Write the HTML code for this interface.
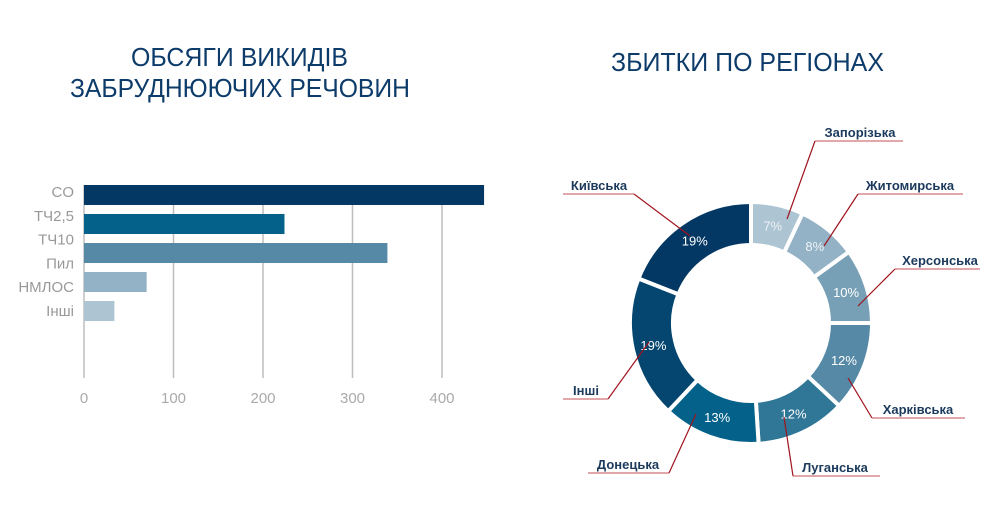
<!DOCTYPE html>
<html><head><meta charset="utf-8"><style>
html,body{margin:0;padding:0;background:#fff;}
svg{display:block;font-family:"Liberation Sans",sans-serif;}
</style></head><body>
<svg id="c" width="1007" height="506" viewBox="0 0 1007 506">
<g fill="#0d3b6a" font-size="26">
<text x="131" y="66" textLength="217" lengthAdjust="spacingAndGlyphs">ОБСЯГИ ВИКИДІВ</text>
<text x="70" y="97" textLength="340" lengthAdjust="spacingAndGlyphs">ЗАБРУДНЮЮЧИХ РЕЧОВИН</text>
</g>
<text x="611" y="71" textLength="273" lengthAdjust="spacingAndGlyphs" fill="#0d3b6a" font-size="26">ЗБИТКИ ПО РЕГІОНАХ</text>
<g id="bars"></g>
<g id="donut"></g>
</svg>
<script>
const barCats=["CO","ТЧ2,5","ТЧ10","Пил","НМЛОС","Інші"];
const barVals=[447,224,339,70,34];
const barColors=["#033764","#04628a","#5589a6","#94b2c6","#adc4d2"];
const xTicks=[0,100,200,300,400];
const sliceNames=["Запорізька","Житомирська","Херсонська","Харківська","Луганська","Донецька","Інші","Київська"];
const sliceVals=[7,8,10,12,12,13,19,19];
const sliceColors=["#adc4d2","#94b2c6","#77a0b6","#5589a6","#2f7697","#04628a","#054670","#033764"];
const NS="http://www.w3.org/2000/svg";
function mk(tag,attrs,parent){const e=document.createElementNS(NS,tag);for(const k in attrs)e.setAttribute(k,attrs[k]);parent.appendChild(e);return e;}
// bar chart
const bg=document.getElementById('bars');
const x0=84,kx=0.895;const X=v=>x0+v*kx;
xTicks.forEach(t=>{
 const l=mk('line',{x1:X(t),x2:X(t),y1:185,y2:378,stroke:'#bdbdbd','stroke-width':1.5},bg);
 
 
 const tx=mk('text',{x:X(t),y:403,'text-anchor':'middle','font-size':15,fill:'#aaaaaa'},bg);
 tx.textContent=t;
 
 
});
barVals.forEach((v,i)=>{
 const r=mk('rect',{x:x0,y:185+i*29,width:v*kx,height:20,fill:barColors[i]},bg);
 
 
});
barCats.forEach((c,i)=>{
 const t=mk('text',{x:74,y:197+i*23.8,'text-anchor':'end','font-size':15,fill:'#999999'},bg);
 t.textContent=c;
 
 
});
// donut
const dg=document.getElementById('donut');
const cx=751,cy=323,R=121,r0=78;
const total=sliceVals.reduce((a,b)=>a+b,0);
const P=(a,rad)=>[cx+rad*Math.sin(a),cy-rad*Math.cos(a)];
let acc=0;
sliceVals.forEach((v,i)=>{
 const a0=acc/total*2*Math.PI,a1=(acc+v)/total*2*Math.PI;acc+=v;
 const [x1,y1]=P(a0,R),[x2,y2]=P(a1,R),[x3,y3]=P(a1,r0),[x4,y4]=P(a0,r0);
 const lg=(a1-a0)>Math.PI?1:0;
 const p=mk('path',{d:`M${x1},${y1}A${R},${R} 0 ${lg} 1 ${x2},${y2}L${x3},${y3}A${r0},${r0} 0 ${lg} 0 ${x4},${y4}Z`,fill:sliceColors[i],stroke:'#fff','stroke-width':4},dg);
 
 
 const [lx,ly]=P((a0+a1)/2,100);
 const t=mk('text',{x:lx,y:ly+5,'text-anchor':'middle','font-size':13,fill:i<2?'#eef2f5':'#ffffff'},dg);
 t.textContent=v+'%';
 
 
});
// callouts: [anchor x,y, underline y, x start, x end, text x]
const callouts=[
 [787,219,141,815,903,860],[824,246,194,858,963,910],[858,306,269,895,980,940],
 [848,378,418,872,965,918],[784,417,476,793,880,835],[696,414,473,588,669,628],
 [649,342,399,563,608,586],[690,236,194,563,634,599]];
callouts.forEach((c,i)=>{
 const [ax,ay,uy,us,ue,tx]=c;
 const ex=(ax>cx)?us:ue;
 const g=mk('g',{},dg);
 
 
 mk('line',{x1:us,x2:ue,y1:uy,y2:uy,stroke:'#d98a8f','stroke-width':1.5},g);
 mk('line',{x1:ax,y1:ay,x2:ex,y2:uy,stroke:'#a0141e','stroke-width':1.2},g);
 const t=mk('text',{x:tx,y:uy-4,'text-anchor':'middle','font-size':13,'font-weight':'bold',fill:'#1b3a5c'},g);
 t.textContent=sliceNames[i];
});
</script>
</body></html>
